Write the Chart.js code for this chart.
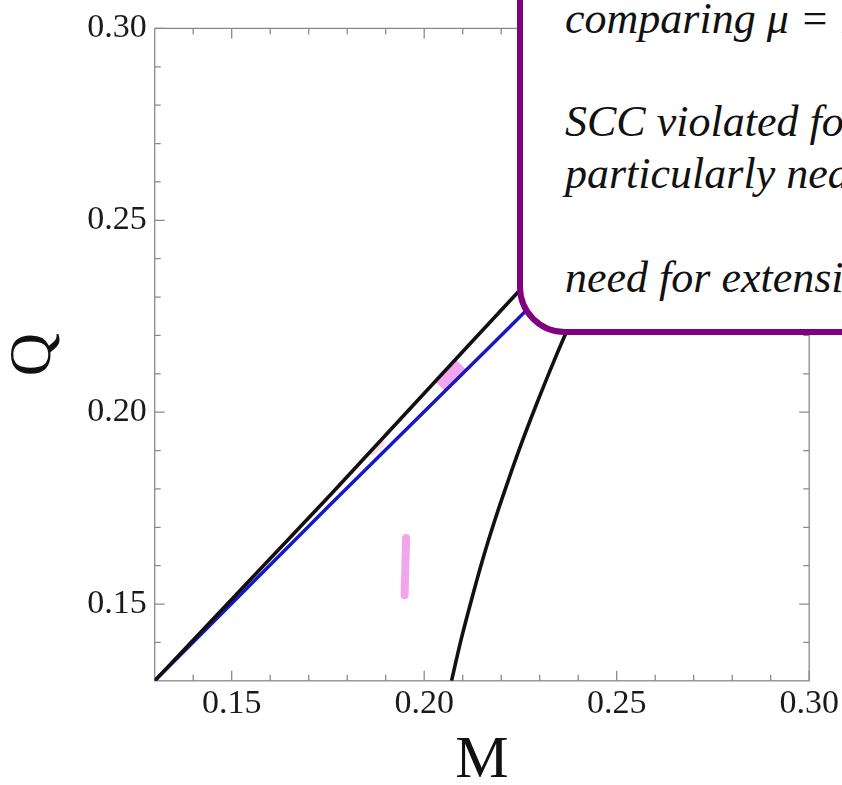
<!DOCTYPE html>
<html>
<head>
<meta charset="utf-8">
<script src="https://cdn.jsdelivr.net/npm/chart.js@4"></script>
<style>
  html, body { margin: 0; padding: 0; background: #ffffff; overflow: hidden; }
  #wrap { position: relative; width: 842px; height: 785px; overflow: hidden; }
  #plot { position: absolute; left: 0; top: 0; }
  #note {
    position: absolute; left: 517px; top: -60px; width: 420px; height: 395px;
    box-sizing: border-box; border: 6px solid #800080; border-radius: 48px;
    background: #ffffff;
  }
  #noteText {
    position: absolute; left: 565px; top: -7px; white-space: pre;
    font-family: "Liberation Serif", serif; font-style: italic;
    font-size: 44px; line-height: 51.7px; color: #111111;
  }
</style>
</head>
<body>
<div id="wrap">
  <canvas id="plot" width="842" height="785"></canvas>
  <div id="note"></div>
  <div id="noteText">comparing μ = 1 and μ = 2

SCC violated for all μ,
particularly near extremality

need for extension beyond</div>
</div>
<script>
// Axis ranges and tick values
const axisMin = 0.13;
const axisMax = 0.30;
const majorTicks = [0.15, 0.20, 0.25, 0.30];
const minorTicks = [0.14, 0.16, 0.17, 0.18, 0.19, 0.21, 0.22, 0.23, 0.24, 0.26, 0.27, 0.28, 0.29];

// Upper black line
const blackLineM = [0.1300, 0.1756, 0.2128, 0.2253, 0.2300];
const blackLineQ = [0.1300, 0.1784, 0.2188, 0.2323, 0.2374];

// Blue line (Q = M)
const blueLineM = [0.1300, 0.1755, 0.2188, 0.2330];
const blueLineQ = [0.1300, 0.1758, 0.2188, 0.2330];

// Right-hand black curve
const blackCurveM = [0.2071, 0.2095, 0.2122, 0.2151, 0.2183, 0.2218, 0.2255, 0.2295, 0.2337, 0.2382, 0.2417];
const blackCurveQ = [0.1300, 0.1404, 0.1508, 0.1613, 0.1717, 0.1821, 0.1925, 0.2029, 0.2133, 0.2238, 0.2316];

// Pink highlighter strokes
const pinkStrokeM = [0.1953, 0.1949];
const pinkStrokeQ = [0.1672, 0.1523];
const pinkPatchM = [0.2041, 0.2096];
const pinkPatchQ = [0.2068, 0.2124];
const pinkFaintM = [0.1865, 0.1890];
const pinkFaintQ = [0.1895, 0.1919];

const pts = (xs, ys) => xs.map((v, i) => ({ x: v, y: ys[i] }));

// Closed frame with inward ticks on all four sides
const framePlugin = {
  id: 'frame',
  beforeDatasetsDraw(chart) {
    const { ctx, chartArea: a, scales: { x, y } } = chart;
    ctx.save();
    ctx.strokeStyle = '#8a8a8a';
    ctx.lineWidth = 1.3;
    ctx.strokeRect(a.left, a.top, a.right - a.left, a.bottom - a.top);
    ctx.beginPath();
    const put = (v, len) => {
      const px = x.getPixelForValue(v);
      ctx.moveTo(px, a.bottom); ctx.lineTo(px, a.bottom - len);
      ctx.moveTo(px, a.top); ctx.lineTo(px, a.top + len);
      const py = y.getPixelForValue(v);
      ctx.moveTo(a.left, py); ctx.lineTo(a.left + len, py);
      ctx.moveTo(a.right, py); ctx.lineTo(a.right - len, py);
    };
    majorTicks.forEach(v => put(v, 10));
    minorTicks.forEach(v => put(v, 6));
    ctx.stroke();
    ctx.restore();
  }
};

const tickFont = { family: '"Liberation Serif", serif', size: 34 };
const titleFont = { family: '"Liberation Serif", serif', size: 60, lineHeight: 0.78 };
const yTitleFont = { family: '"Liberation Serif", serif', size: 60, lineHeight: 1 };

new Chart(document.getElementById('plot'), {
  type: 'scatter',
  data: {
    datasets: [
      { data: pts(blackLineM, blackLineQ), borderColor: '#111111', borderWidth: 3.6, showLine: true, pointRadius: 0, tension: 0 },
      { data: pts(blueLineM, blueLineQ), borderColor: '#1717c4', borderWidth: 3.4, showLine: true, pointRadius: 0, tension: 0 },
      { data: pts(blackCurveM, blackCurveQ), borderColor: '#111111', borderWidth: 3.6, showLine: true, pointRadius: 0, cubicInterpolationMode: 'monotone' },
      { data: pts(pinkStrokeM, pinkStrokeQ), borderColor: '#f2a4ec', borderWidth: 8, borderCapStyle: 'round', showLine: true, pointRadius: 0 },
      { data: pts(pinkPatchM, pinkPatchQ), borderColor: '#f3a6ef', borderWidth: 13, borderCapStyle: 'butt', showLine: true, pointRadius: 0 },
      { data: pts(pinkFaintM, pinkFaintQ), borderColor: 'rgba(245,180,200,0.45)', borderWidth: 6, borderCapStyle: 'round', showLine: true, pointRadius: 0 }
    ]
  },
  options: {
    responsive: false,
    animation: false,
    events: [],
    layout: { padding: { left: 0, top: 28, right: 32.8, bottom: 0 } },
    plugins: { legend: { display: false }, tooltip: { enabled: false } },
    scales: {
      x: {
        type: 'linear', min: axisMin, max: axisMax,
        grid: { display: false, drawTicks: false },
        border: { display: false },
        afterBuildTicks: s => { s.ticks = majorTicks.map(v => ({ value: v })); },
        afterFit: s => { s.height = 104.2; },
        ticks: { font: tickFont, color: '#1a1a1a', padding: 3, maxRotation: 0, callback: v => v.toFixed(2) },
        title: { display: true, text: 'M', font: titleFont, color: '#111111', padding: 0 }
      },
      y: {
        type: 'linear', min: axisMin, max: axisMax,
        grid: { display: false, drawTicks: false },
        border: { display: false },
        afterBuildTicks: s => { s.ticks = majorTicks.map(v => ({ value: v })); },
        afterFit: s => { s.width = 154.7; },
        ticks: { font: tickFont, color: '#1a1a1a', padding: 8, callback: v => v.toFixed(2) },
        title: { display: true, text: 'Q', font: yTitleFont, color: '#111111', padding: { top: 4, bottom: 0 } }
      }
    }
  },
  plugins: [framePlugin]
});
</script>
</body>
</html>
